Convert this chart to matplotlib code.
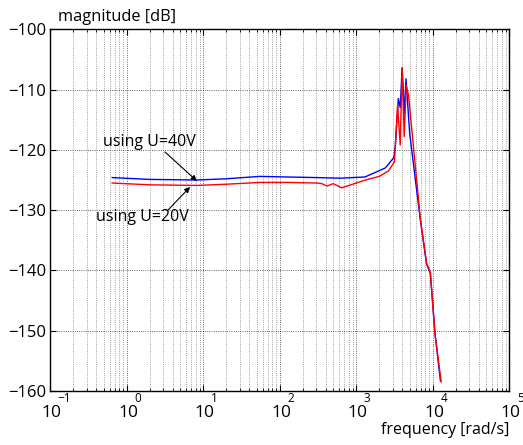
import numpy as np
import matplotlib.pyplot as plt
from matplotlib.ticker import LogLocator, NullFormatter

plt.rcParams['font.family'] = ['Open Sans', 'DejaVu Sans']

# measured magnitude, U = 40V
freq_40 = [0.65, 2, 8.3, 20, 55, 125, 310, 620, 1300, 2400, 3100, 3240,
           3550, 3760, 3980, 4270, 4470, 5000, 6900, 8300, 9300, 10700, 12600]
mag_40 = [-124.6, -124.9, -125.0, -124.8, -124.4, -124.5, -124.6, -124.7,
          -124.5, -123.0, -121.3, -119.5, -111.5, -113.0, -106.4, -114.0,
          -108.2, -117.3, -131.7, -138.9, -140.5, -150.4, -158.3]

# measured magnitude, U = 20V
freq_20 = [0.65, 2, 8.3, 20, 55, 125, 310, 355, 417, 500, 645, 1320, 2000,
           2630, 3160, 3470, 3760, 3980, 4240, 4500, 4830, 6900, 8300, 9300,
           10700, 12900]
mag_20 = [-125.5, -125.8, -125.9, -125.7, -125.4, -125.4, -125.5, -125.6,
          -126.0, -125.6, -126.3, -125.0, -124.4, -123.5, -122.0, -112.6,
          -119.2, -106.4, -117.8, -109.3, -111.0, -131.5, -138.8, -140.3,
          -150.6, -158.5]

decades = [-1, 0, 1, 2, 3, 4, 5]

fig = plt.figure(figsize=(5.23, 4.45), dpi=100)
ax = fig.add_axes([0.0956, 0.1213, 0.8782, 0.8129])

ax.semilogx(freq_40, mag_40, color='#0000ff', lw=1.0)
ax.semilogx(freq_20, mag_20, color='#ff0000', lw=1.0)

ax.set_xlim(1e-1, 1e5)
ax.set_ylim(-160, -100)
ax.set_yticks(np.arange(-160, -99, 10))
ax.xaxis.set_major_locator(LogLocator(base=10, numticks=10))
ax.xaxis.set_minor_locator(LogLocator(base=10, subs=np.arange(2, 10), numticks=20))
ax.xaxis.set_minor_formatter(NullFormatter())

ax.grid(True, which='major', linestyle=':', color='k', lw=0.6, alpha=0.8)
ax.grid(True, which='minor', axis='x', linestyle=':', color='k', lw=0.6, alpha=0.5)

ax.tick_params(which='major', direction='in', length=4, width=0.8,
               top=True, right=True, labelsize=12, pad=3)
ax.tick_params(axis='x', labelbottom=False)
ax.tick_params(which='minor', direction='in', length=2, width=0.6,
               top=True, right=True)
for s in ax.spines.values():
    s.set_linewidth(1.0)

# matlab-like 10^n tick labels
for d in decades:
    ax.annotate('10', xy=(10.0 ** d, 0), xycoords=('data', 'axes fraction'),
                xytext=(1.1, -19), textcoords='offset points',
                ha='center', va='baseline', fontsize=12.5)
    ax.annotate('\u2212%d' % -d if d < 0 else '%d' % d,
                xy=(10.0 ** d, 0), xycoords=('data', 'axes fraction'),
                xytext=(5.6, -7.8), textcoords='offset points',
                ha='left', va='baseline', fontsize=8.5)

arrow = dict(arrowstyle='-|>', color='k', lw=0.8, shrinkA=0, shrinkB=0,
             mutation_scale=8)
ax.text(1.97, -118.7, 'using U=40V', ha='center', va='center', fontsize=11.5)
ax.annotate('', xy=(8.28, -125.16), xytext=(3.18, -120.35), arrowprops=arrow)
ax.text(1.62, -131.1, 'using U=20V', ha='center', va='center', fontsize=11.5)
ax.annotate('', xy=(6.76, -126.15), xytext=(3.41, -130.1), arrowprops=arrow)

fig.text(58 / 523, 1 - 17 / 445, 'magnitude [dB]', ha='left', va='center', fontsize=11.8)
fig.text(509 / 523, 1 - 430 / 445, 'frequency [rad/s]', ha='right', va='center', fontsize=11.5)

fig.savefig('out.png', dpi=100)
